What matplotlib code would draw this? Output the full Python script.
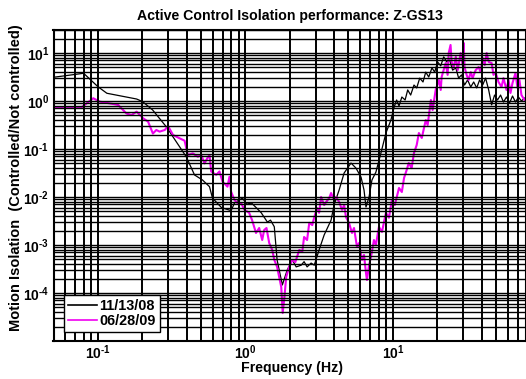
import math
import matplotlib
matplotlib.use("Agg")
import matplotlib.pyplot as plt
from matplotlib.ticker import FixedLocator, LogLocator, NullFormatter, FuncFormatter

plt.rcParams['font.family'] = ['Liberation Sans', 'DejaVu Sans']
plt.rcParams['font.weight'] = 'bold'
plt.rcParams['mathtext.fontset'] = 'custom'
plt.rcParams['mathtext.rm'] = 'Liberation Sans:bold'
plt.rcParams['mathtext.bf'] = 'Liberation Sans:bold'
plt.rcParams['mathtext.it'] = 'Liberation Sans:bold'
plt.rcParams['mathtext.default'] = 'bf'

# ---- measured transfer ratios (controlled / not controlled) ----
label_nov08 = "11/13/08"
freq_nov08 = [0.05, 0.08, 0.1, 0.115, 0.183, 0.201, 0.235, 0.291, 0.397, 0.452,
              0.512, 0.571, 0.598, 0.689, 0.80, 0.843, 0.91, 0.955, 1.02, 1.10,
              1.19, 1.28, 1.41, 1.48, 1.57, 1.64, 1.78, 1.92, 2.08, 2.21,
              2.39, 2.50, 2.62, 2.79, 2.93, 3.16, 3.42, 3.81, 3.99, 4.32,
              4.67, 5.2, 5.62, 6.08, 6.37, 6.57, 6.89, 7.21, 7.67, 8.3,
              8.97, 9.69, 10.2, 10.6, 11.0, 11.5, 12.1, 12.6, 13.2, 13.9,
              14.5, 15.2, 16.0, 16.7, 17.5, 18.4, 19.2, 20.1, 21.1, 22.1,
              23.2, 24.3, 25.4, 26.7, 27.9, 29.2, 30.6, 32.1, 33.7, 35.3,
              37.0, 38.7, 40.6, 42.5, 44.6, 46.7, 48.9, 51.2, 53.7, 56.2,
              58.9, 61.8, 64.7, 67.8, 71.0, 74.4, 78.0]
ratio_nov08 = [3.12, 3.78, 1.99, 1.45, 1.10, 0.97, 0.65, 0.29, 0.069, 0.0288,
               0.0226, 0.0164, 0.0095, 0.0060, 0.0052, 0.0075, 0.0087, 0.0095, 0.0071, 0.0075,
               0.0059, 0.0047, 0.0030, 0.0033, 0.0024, 0.00049, 0.000147, 0.00030, 0.00049, 0.00035,
               0.00038, 0.00045, 0.00035, 0.00042, 0.00038, 0.00079, 0.00162, 0.0033, 0.0068, 0.014,
               0.0316, 0.051, 0.040, 0.026, 0.014, 0.0062, 0.010, 0.0226, 0.033, 0.083,
               0.215, 0.40, 0.75, 1.05, 0.79, 1.21, 1.05, 1.70, 1.33, 2.15,
               1.87, 3.0, 2.49, 4.0, 3.16, 4.9, 4.0, 6.5, 5.4, 8.3,
               6.5, 7.1, 4.4, 4.9, 3.0, 3.5, 2.15, 2.74, 1.96, 2.49,
               1.87, 2.74, 2.15, 3.0, 1.70, 0.83, 1.33, 1.05, 1.33, 0.95,
               1.21, 0.91, 1.27, 0.95, 1.21, 1.0, 1.15]

label_jun09 = "06/28/09"
freq_jun09 = [0.05, 0.0775, 0.093, 0.103, 0.137, 0.156, 0.169, 0.183, 0.202, 0.219,
              0.236, 0.249, 0.262, 0.284, 0.299, 0.323, 0.358, 0.387, 0.407, 0.44,
              0.476, 0.502, 0.528, 0.553, 0.571, 0.586, 0.634, 0.667, 0.70, 0.756,
              0.78, 0.80, 0.843, 0.883, 0.935, 0.985, 1.06, 1.11, 1.18, 1.24,
              1.30, 1.34, 1.39, 1.45, 1.52, 1.57, 1.64, 1.75, 1.79, 1.84,
              1.89, 1.98, 2.08, 2.18, 2.32, 2.43, 2.50, 2.62, 2.71, 2.84,
              2.93, 3.06, 3.16, 3.26, 3.42, 3.53, 3.70, 3.81, 3.99, 4.12,
              4.32, 4.52, 4.67, 4.81, 5.04, 5.28, 5.45, 5.71, 5.89, 6.17,
              6.37, 6.57, 6.67, 6.89, 7.10, 7.44, 7.67, 8.04, 8.43, 8.97,
              9.4, 9.85, 10.3, 11.0, 11.5, 11.9, 12.4, 12.8, 13.4, 13.9,
              14.5, 15.0, 15.7, 16.7, 17.2, 18.1, 18.6, 19.5, 20.5, 21.1,
              21.4, 22.8, 23.5, 23.9, 24.6, 25.0, 25.8, 26.7, 27.5, 28.8,
              29.7, 30.2, 30.6, 31.6, 32.6, 33.7, 34.7, 36.4, 38.1, 39.3,
              40.6, 41.9, 43.2, 44.6, 46.7, 48.1, 49.6, 52.0, 54.5, 56.2,
              58.9, 60.8, 62.7, 64.7, 67.8, 69.9, 72.1, 74.4, 78.0]
ratio_jun09 = [0.74, 0.74, 1.14, 0.97, 0.83, 0.55, 0.51, 0.60, 0.44, 0.37,
               0.21, 0.249, 0.23, 0.249, 0.30, 0.196, 0.167, 0.149, 0.075, 0.081,
               0.069, 0.075, 0.050, 0.065, 0.075, 0.034, 0.029, 0.034, 0.021, 0.0164,
               0.0265, 0.0129, 0.0087, 0.0075, 0.0075, 0.0054, 0.0047, 0.0033, 0.00178, 0.00226,
               0.00127, 0.00205, 0.00226, 0.0011, 0.00079, 0.00049, 0.00035, 0.000133, 0.0000383, 0.0000831,
               0.000215, 0.00035, 0.00049, 0.00044, 0.00079, 0.00072, 0.00147, 0.00127, 0.0029, 0.0026,
               0.0038, 0.0059, 0.0047, 0.010, 0.0068, 0.0079, 0.0095, 0.0121, 0.0087, 0.010,
               0.0079, 0.0054, 0.0068, 0.0038, 0.0029, 0.00178, 0.00226, 0.00091, 0.0011, 0.00049,
               0.00062, 0.00026, 0.000187, 0.00038, 0.00056, 0.00127, 0.0010, 0.0024, 0.00187, 0.0047,
               0.0037, 0.0087, 0.0068, 0.0154, 0.0127, 0.0249, 0.0365, 0.051, 0.040, 0.083,
               0.121, 0.215, 0.17, 0.40, 0.316, 1.05, 0.65, 1.70, 2.74, 1.70,
               3.16, 6.2, 3.5, 10.0, 14.7, 6.5, 4.9, 8.3, 4.4, 10.0,
               5.6, 16.2, 5.1, 3.5, 2.74, 4.0, 3.0, 4.4, 5.1, 4.0,
               7.9, 5.6, 10.0, 6.5, 6.2, 3.5, 4.0, 2.49, 1.96, 3.0,
               1.70, 2.74, 1.47, 2.37, 3.83, 1.87, 2.74, 1.33, 1.05]

title_text = "Active Control Isolation performance: Z-GS13"
xlabel_text = "Frequency (Hz)"
ylabel_text = "Motion Isolation  (Controlled/Not controlled)"
x_major = [0.1, 1.0, 10.0]
y_major = [1e-4, 1e-3, 1e-2, 1e-1, 1e0, 1e1]
x_limits = (0.05, 80.0)
y_limits = (1e-5, 30.0)

W, H = 526, 379
fig = plt.figure(figsize=(W / 100, H / 100), dpi=100)
fig.patch.set_facecolor('white')
ax = fig.add_axes([53.5 / W, 38.0 / H, 472.6 / W, 310.9 / H])

ax.plot(freq_nov08, ratio_nov08, color='black', lw=0.9, label=label_nov08)
ax.plot(freq_jun09, ratio_jun09, color='#f000f0', lw=1.5, label=label_jun09)

ax.set_xscale('log')
ax.set_yscale('log')
ax.set_xlim(*x_limits)
ax.set_ylim(*y_limits)

ax.xaxis.set_major_locator(FixedLocator(x_major))
ax.yaxis.set_major_locator(FixedLocator(y_major))
ax.xaxis.set_minor_locator(LogLocator(base=10, subs=range(2, 10), numticks=100))
ax.yaxis.set_minor_locator(LogLocator(base=10, subs=range(2, 10), numticks=100))
ax.xaxis.set_minor_formatter(NullFormatter())
ax.yaxis.set_minor_formatter(NullFormatter())


def decade_label(v, pos):
    # "10" with a short hyphen-style exponent sign, as in the original plot
    e = int(round(math.log10(v)))
    sign = r'\text{-}' if e < 0 else ''
    return r'$\mathbf{10^{%s%d}}$' % (sign, abs(e))


ax.xaxis.set_major_formatter(FuncFormatter(decade_label))
ax.yaxis.set_major_formatter(FuncFormatter(decade_label))
ax.tick_params(which='both', length=0)
ax.tick_params(axis='x', labelsize=10, pad=2)
ax.tick_params(axis='y', labelsize=10, pad=3)

# heavy black grid drawn over the traces
ax.set_axisbelow(False)
ax.grid(True, which='both', axis='x', color='black', lw=1.4)
ax.grid(True, which='both', axis='y', color='black', lw=1.0)
for s in ax.spines.values():
    s.set_linewidth(1.5)
    s.set_color('black')

ax.set_title(title_text, fontsize=10.2, fontweight='bold', pad=7)
fig.text(292 / W, 1 - 368 / H, xlabel_text, ha='center', va='center',
         fontsize=10.2, fontweight='bold')
fig.text(16 / W, 1 - 178 / H, ylabel_text, rotation=90, ha='center', va='center',
         fontsize=10.5, fontweight='bold')

leg = ax.legend(loc='lower left', bbox_to_anchor=(0.0225, 0.029), borderaxespad=0,
                prop={'size': 10.4, 'weight': 'bold'}, frameon=True, fancybox=False,
                edgecolor='black', framealpha=1, handlelength=2.0, handletextpad=0.2,
                borderpad=0.25, labelspacing=0.12)
leg.get_frame().set_linewidth(1.0)
for line in leg.get_lines():
    line.set_linewidth(1.2)

fig.savefig('out.png', dpi=100)
